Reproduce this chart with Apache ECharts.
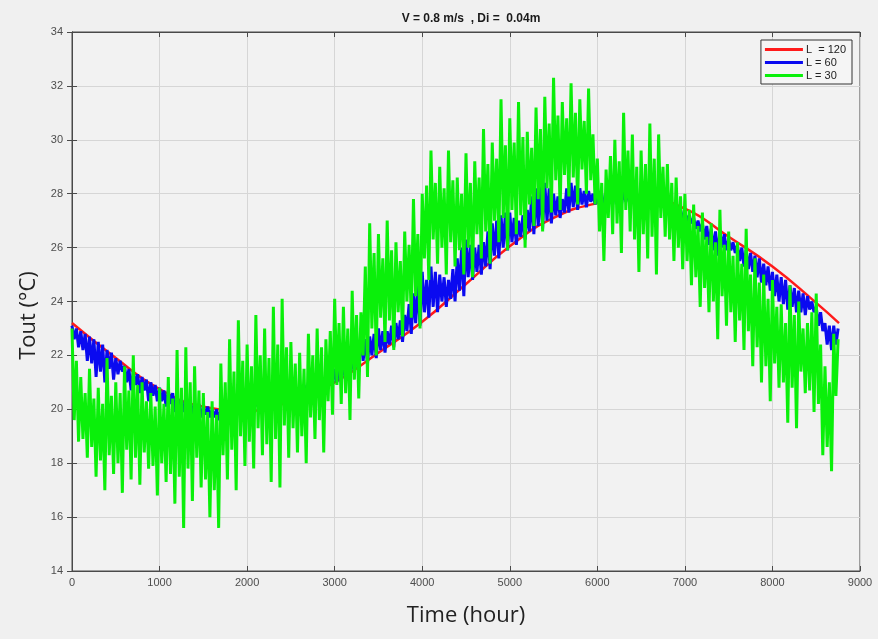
<!DOCTYPE html>
<html>
<head>
<meta charset="utf-8">
<script src="https://cdn.jsdelivr.net/npm/echarts@6/dist/echarts.min.js"></script>
<style>
html,body{margin:0;padding:0;background:#f0f0f0;}
#chart{width:878px;height:639px;}
</style>
</head>
<body>
<div id="chart"></div>
<script>
// ---- data ----
const titleText = 'V = 0.8 m/s  , Di =  0.04m';
const seriesNames = ['L  = 120', 'L = 60', 'L = 30'];
const xTicks = [0, 1000, 2000, 3000, 4000, 5000, 6000, 7000, 8000, 9000];
const yTicks = [14, 16, 18, 20, 22, 24, 26, 28, 30, 32, 34];

// L = 120 (smooth curve)
const redHours = [0, 500, 1000, 1500, 2000, 2500, 3000, 3500, 4000, 4500, 5000, 5500, 6000, 6500, 7000, 7500, 8000, 8500, 8760];
const redValues = [23.2, 21.9, 20.75, 20.1, 19.95, 20.3, 21.0, 22.1, 23.25, 24.65, 26.05, 27.1, 27.65, 27.85, 27.45, 26.4, 25.3, 23.95, 23.2];

// samples every 25 h (daily highs / lows)
const SAMPLE_STEP = 25;
const blueValues = [
23.1,22.6,23.0,22.3, 22.9,22.2,22.8,21.8, 22.7,21.7,22.6,21.2, 22.5,21.4,22.4,21.0, 22.2,21.5,22.1,21.1,
21.9,21.3,21.8,21.4, 21.6,21.0,21.5,20.7, 21.4,20.9,21.3,20.6, 21.2,20.7,21.1,20.3, 21.0,20.5,20.9,20.3,
20.8,20.3,20.7,20.1, 20.7,20.2,20.6,19.9, 20.4,20.0,20.4,19.9, 20.3,19.9,20.3,19.8, 20.2,19.9,20.2,19.7,
20.1,19.8,20.1,19.7, 20.0,19.7,20.0,19.6, 20.0,19.8,20.0,19.7, 20.0,19.8,20.1,19.8, 20.1,19.9,20.2,19.8,
20.2,20.0,20.3,19.9, 20.4,20.1,20.4,20.0, 20.5,20.2,20.5,20.1, 20.6,20.3,20.6,20.2, 20.7,20.3,20.7,20.3,
20.8,20.4,20.8,20.3, 20.9,20.5,20.9,20.5, 21.0,20.6,21.1,20.6, 21.2,20.8,21.2,20.8, 21.3,20.9,21.4,20.9,
21.5,21.0,21.6,21.0, 21.7,21.2,21.8,21.2, 22.0,21.4,22.3,21.4, 22.9,21.8,22.6,21.7, 22.7,22.0,22.8,21.9,
23.0,22.2,22.9,22.1, 22.9,22.4,23.1,22.3, 23.2,22.6,23.3,22.5, 23.5,22.9,23.9,22.8, 24.3,23.2,24.6,23.1,
25.1,23.6,24.8,23.4, 25.3,23.8,25.1,23.6, 25.0,24.0,24.9,23.8, 24.8,24.1,25.2,24.0, 25.6,24.4,26.0,24.2,
26.3,24.9,26.1,24.8, 26.0,25.1,26.1,25.0, 26.2,25.3,26.6,25.2, 26.9,25.7,27.0,25.6, 27.2,26.0,27.3,25.9,
27.3,26.2,27.1,26.1, 27.0,26.4,27.2,26.3, 27.4,26.6,27.9,26.5, 28.2,26.8,28.3,26.7, 28.4,27.0,28.2,26.9,
28.0,27.2,27.9,27.1, 27.8,27.3,28.2,27.3, 28.4,27.5,28.3,27.4, 28.2,27.6,28.1,27.5, 28.1,27.7,28.0,27.6,
27.9,27.6,28.0,27.5, 28.0,27.7,28.1,27.6, 28.1,27.7,28.1,27.6, 28.1,27.7,28.0,27.7, 28.0,27.7,28.0,27.6,
28.0,27.7,27.9,27.7, 27.9,27.6,27.8,27.5, 27.8,27.5,27.7,27.4, 27.6,27.4,27.5,27.3, 27.5,27.2,27.4,27.1,
27.3,27.0,27.2,26.9, 27.1,26.7,27.0,26.6, 26.9,26.3,26.8,26.1, 26.7,25.9,26.6,25.7, 26.6,26.0,26.5,25.9,
26.3,25.9,26.2,25.8, 26.1,25.5,26.0,25.3, 25.9,25.2,25.8,25.1, 25.7,24.9,25.6,24.7, 25.4,24.6,25.3,24.4,
25.1,24.2,25.0,24.0, 24.9,23.9,24.8,23.7, 24.6,23.8,24.5,23.6, 24.4,23.6,24.3,23.5, 24.2,23.7,24.0,23.6,
23.8,23.1,23.6,22.9, 23.2,22.4,23.1,22.2, 23.1,22.4,23.0
];
const greenValues = [
23.0,19.6,21.8,18.8, 21.2,18.9,20.6,18.2, 21.5,18.6,20.4,17.5, 20.8,18.1,20.2,17.0, 21.9,18.3,20.5,17.6,
21.0,18.0,20.6,16.9, 21.6,18.5,20.7,17.4, 22.0,18.2,20.9,17.2, 21.0,18.4,20.3,17.8, 20.6,17.9,20.1,16.8,
20.8,18.0,20.2,17.3, 21.2,17.6,20.4,16.5, 22.2,17.5,20.8,15.6, 22.3,17.8,21.0,16.6, 21.6,18.2,20.7,17.1,
20.6,17.4,19.9,16.0, 20.3,17.0,19.8,15.6, 21.7,18.3,21.0,17.4, 22.6,18.5,21.4,17.0, 23.3,19.0,21.8,17.9,
22.4,18.8,21.6,17.8, 23.5,19.3,22.0,18.3, 23.0,18.7,21.9,17.3, 23.8,18.9,22.4,17.1, 24.1,19.4,22.3,18.2,
22.5,19.3,21.7,18.4, 22.1,19.0,21.5,18.0, 22.8,19.7,22.0,18.9, 23.0,19.6,22.3,18.4, 22.6,20.3,22.9,19.8,
24.1,20.9,23.2,20.2, 23.8,20.6,23.0,19.6, 24.4,21.1,23.5,20.4, 23.6,22.0,25.3,21.2, 26.9,23.0,25.8,22.0,
26.5,23.4,25.6,22.5, 27.0,23.3,25.9,22.2, 26.2,23.6,25.5,22.7, 26.6,24.0,26.1,23.4, 27.8,24.2,26.5,23.0,
28.0,25.6,28.3,24.8, 29.6,26.3,28.4,25.4, 29.0,26.0,28.2,25.0, 29.6,26.2,28.5,25.3, 28.6,25.9,28.0,25.0,
29.5,26.0,28.4,24.9, 29.2,26.5,28.6,25.6, 30.4,26.6,29.1,25.4, 29.9,27.0,29.3,26.2, 31.5,27.1,29.8,25.9,
30.8,27.4,29.9,26.5, 31.4,27.2,30.1,26.0, 30.3,27.6,29.7,26.8, 31.2,27.8,30.4,26.6, 31.6,28.2,30.6,27.3,
32.3,28.5,30.9,27.4, 31.4,28.7,30.8,27.9, 32.1,28.6,31.0,27.6, 31.5,28.9,30.7,28.0, 31.9,28.5,30.2,27.6,
29.3,26.6,28.4,25.5, 28.9,27.1,29.4,26.5, 30.0,26.9,29.2,25.8, 31.0,27.4,29.6,26.6, 30.2,26.3,29.0,25.1,
29.6,26.5,29.1,25.6, 30.6,26.4,29.3,25.0, 30.2,27.1,29.0,26.4, 29.1,26.3,28.4,25.5, 28.6,26.0,27.9,25.2,
28.0,25.5,27.4,24.6, 27.6,24.9,26.8,23.8, 27.3,24.5,26.4,23.6, 26.9,24.0,26.2,22.6, 27.4,24.2,26.1,23.1,
26.6,23.6,25.7,22.5, 26.2,23.3,25.4,22.2, 26.7,22.9,25.0,21.6, 25.6,22.3,24.7,21.0, 25.0,21.6,24.1,20.3,
24.8,21.7,23.8,20.8, 23.9,21.0,23.2,19.5, 24.6,20.8,23.5,19.3, 24.0,21.4,23.0,20.6, 23.2,20.7,23.6,19.9,
24.3,20.2,22.4,18.3, 21.6,18.6,21.0,17.7, 22.8,20.5,22.6
];

// ---- build chart ----
const toPairs = (vals, step) => vals.map((v, i) => [i * step, v]);
const redData = redHours.map((h, i) => [h, redValues[i]]);

const chart = echarts.init(document.getElementById('chart'), null, {renderer: 'canvas'});
const axisColor = '#4a4a4a';
const labelColor = '#4d4d4d';
const fontFam = 'Liberation Sans, Arial, sans-serif';
const plain = v => String(v);

chart.setOption({
  animation: false,
  backgroundColor: '#f0f0f0',
  title: {
    text: titleText,
    left: 466, top: 8, textAlign: 'center',
    textStyle: {fontSize: 12, fontWeight: 'bold', color: '#1a1a1a', fontFamily: fontFam}
  },
  legend: {
    data: seriesNames,
    orient: 'vertical',
    right: 26, top: 40,
    icon: 'rect',
    itemWidth: 38, itemHeight: 3, itemGap: 2,
    padding: [4, 6, 3, 4],
    borderColor: '#333', borderWidth: 1,
    backgroundColor: '#f5f5f5',
    textStyle: {fontSize: 11, color: '#222', fontFamily: fontFam, padding: [0,0,0,-2]}
  },
  grid: {left: 72, right: 18, top: 32, bottom: 68, show: true, backgroundColor: '#f2f2f2', borderColor: axisColor, borderWidth: 1},
  xAxis: [{
    type: 'value', min: xTicks[0], max: xTicks[xTicks.length-1], interval: 1000,
    name: 'Time (hour)', nameLocation: 'middle', nameGap: 34,
    nameTextStyle: {fontSize: 22, color: '#222', fontFamily: 'Open Sans, Noto Sans, sans-serif'},
    axisLine: {lineStyle: {color: axisColor}},
    axisTick: {inside: true, length: 5, lineStyle: {color: axisColor}},
    axisLabel: {fontSize: 11, color: labelColor, margin: 6, fontFamily: fontFam, formatter: plain},
    splitLine: {show: true, lineStyle: {color: '#d6d6d6', width: 1}}
  }, {
    type: 'value', position: 'top', min: 0, max: 9000, interval: 1000,
    axisLine: {show: true, lineStyle: {color: axisColor}},
    axisTick: {inside: true, length: 5, lineStyle: {color: axisColor}},
    axisLabel: {show: false}, splitLine: {show: false}
  }],
  yAxis: [{
    type: 'value', min: yTicks[0], max: yTicks[yTicks.length-1], interval: 2,
    name: 'Tout (°C)', nameLocation: 'middle', nameGap: 25, nameRotate: 90,
    nameTextStyle: {fontSize: 22, color: '#222', fontFamily: 'Open Sans, Noto Sans, sans-serif', padding: [0, 28, 0, 0]},
    axisLine: {show: true, lineStyle: {color: axisColor}},
    axisTick: {show: true, inside: true, length: 5, lineStyle: {color: axisColor}},
    axisLabel: {fontSize: 11, color: labelColor, margin: 9, fontFamily: fontFam, formatter: plain},
    splitLine: {show: true, lineStyle: {color: '#d6d6d6', width: 1}}
  }, {
    type: 'value', position: 'right', min: 14, max: 34, interval: 2,
    axisLine: {show: true, lineStyle: {color: axisColor}},
    axisTick: {show: true, inside: true, length: 5, lineStyle: {color: axisColor}},
    axisLabel: {show: false}, splitLine: {show: false}
  }],
  series: [{
    name: seriesNames[0], type: 'line', data: redData, smooth: true,
    showSymbol: false, color: '#ff1a1a', lineStyle: {width: 2.5, color: '#ff1a1a'}, z: 2
  }, {
    name: seriesNames[1], type: 'line', data: toPairs(blueValues, SAMPLE_STEP),
    showSymbol: false, color: '#0a0af0', lineStyle: {width: 3, color: '#0a0af0', join: 'miter', miterLimit: 2}, z: 3
  }, {
    name: seriesNames[2], type: 'line', data: toPairs(greenValues, SAMPLE_STEP),
    showSymbol: false, color: '#0af00a', lineStyle: {width: 3, color: '#0af00a', join: 'miter', miterLimit: 2}, z: 4
  }]
});
</script>
</body>
</html>
